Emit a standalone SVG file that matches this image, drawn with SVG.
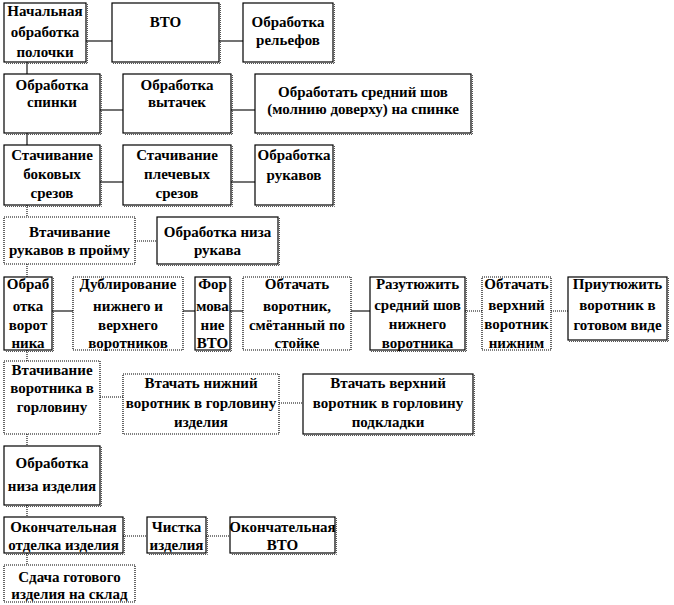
<svg xmlns="http://www.w3.org/2000/svg" width="674" height="605" viewBox="0 0 674 605">
<style>
.s{fill:#fff;stroke:#000;stroke-width:1.2}
.d{fill:#fff;stroke:#000;stroke-width:1.2;stroke-dasharray:1 1}
.sh{fill:none;stroke:#555;stroke-width:1;stroke-dasharray:1 1}
.cs{stroke:#000;stroke-width:1.1;fill:none}
.cd{stroke:#000;stroke-width:1.1;fill:none;stroke-dasharray:1 1}
</style>
<rect width="674" height="605" fill="#fff"/>
<g id="connectors">
<line class="cs" x1="86" y1="41" x2="112" y2="41"/>
<line class="cs" x1="219" y1="41" x2="243" y2="41"/>
<line class="cs" x1="27" y1="62" x2="27" y2="74"/>
<line class="cs" x1="100" y1="110" x2="123" y2="110"/>
<line class="cs" x1="231" y1="110" x2="255" y2="110"/>
<line class="cs" x1="27" y1="133" x2="27" y2="145"/>
<line class="cs" x1="100" y1="182" x2="123" y2="182"/>
<line class="cs" x1="231" y1="182" x2="255" y2="182"/>
<line class="cd" x1="27" y1="205" x2="27" y2="217"/>
<line class="cd" x1="135" y1="241" x2="157" y2="241"/>
<line class="cd" x1="27" y1="264" x2="27" y2="277"/>
<line class="cs" x1="52" y1="311" x2="73" y2="311"/>
<line class="cs" x1="183" y1="311" x2="195" y2="311"/>
<line class="cs" x1="230" y1="311" x2="243" y2="311"/>
<line class="cs" x1="351" y1="311" x2="370" y2="311"/>
<line class="cd" x1="465" y1="311" x2="482" y2="311"/>
<line class="cd" x1="551" y1="311" x2="568" y2="311"/>
<line class="cd" x1="27" y1="350" x2="27" y2="361"/>
<line class="cd" x1="100" y1="397" x2="123" y2="397"/>
<line class="cd" x1="279" y1="403" x2="303" y2="403"/>
<line class="cd" x1="27" y1="434" x2="27" y2="446"/>
<line class="cd" x1="27" y1="505" x2="27" y2="517"/>
<line class="cd" x1="123" y1="536" x2="147" y2="536"/>
<line class="cd" x1="206" y1="536" x2="230" y2="536"/>
<line class="cd" x1="27" y1="553" x2="27" y2="565"/>
</g>
<g font-family="Liberation Serif" font-weight="bold" font-size="15" text-anchor="middle" fill="#000">
<g id="n1"><rect class="s" x="4" y="3" width="82" height="59"/><path class="sh" d="M87.5 4V63.5H5"/><text x="45" y="16">Начальная</text><text x="45" y="37">обработка</text><text x="45" y="57">полочки</text></g>
<g id="n2"><rect class="s" x="112" y="3" width="107" height="59"/><path class="sh" d="M220.5 4V63.5H113"/><text x="165.5" y="27">ВТО</text></g>
<g id="n3"><rect class="s" x="243" y="3" width="90" height="59"/><path class="sh" d="M334.5 4V63.5H244"/><text x="288" y="27">Обработка</text><text x="288" y="45">рельефов</text></g>
<g id="n4"><rect class="s" x="4" y="74" width="96" height="59"/><path class="sh" d="M101.5 75V134.5H5"/><text x="52" y="90">Обработка</text><text x="52" y="107">спинки</text></g>
<g id="n5"><rect class="s" x="123" y="74" width="108" height="59"/><path class="sh" d="M232.5 75V134.5H124"/><text x="177" y="90">Обработка</text><text x="177" y="107">вытачек</text></g>
<g id="n6"><rect class="s" x="255" y="74" width="216" height="59"/><path class="sh" d="M472.5 75V134.5H256"/><text x="363" y="97">Обработать средний шов</text><text x="363" y="114">(молнию доверху) на спинке</text></g>
<g id="n7"><rect class="s" x="4" y="145" width="96" height="60"/><path class="sh" d="M101.5 146V206.5H5"/><text x="52" y="160">Стачивание</text><text x="52" y="179">боковых</text><text x="52" y="198">срезов</text></g>
<g id="n8"><rect class="s" x="123" y="145" width="108" height="60"/><path class="sh" d="M232.5 146V206.5H124"/><text x="177" y="160">Стачивание</text><text x="177" y="179">плечевых</text><text x="177" y="198">срезов</text></g>
<g id="n9"><rect class="s" x="255" y="145" width="78" height="60"/><path class="sh" d="M334.5 146V206.5H256"/><text x="294" y="160">Обработка</text><text x="294" y="180">рукавов</text></g>
<g id="n10"><rect class="d" x="4" y="217" width="131" height="47"/><text x="69.5" y="237">Втачивание</text><text x="69.5" y="255">рукавов в пройму</text></g>
<g id="n11"><rect class="s" x="157" y="217" width="121" height="47"/><path class="sh" d="M279.5 218V265.5H158"/><text x="217.5" y="237">Обработка низа</text><text x="217.5" y="255">рукава</text></g>
<g id="n12"><rect class="s" x="4" y="277" width="48" height="73"/><path class="sh" d="M53.5 278V351.5H5"/><text x="28" y="289">Обраб</text><text x="28" y="311">отка</text><text x="28" y="330">ворот</text><text x="28" y="348">ника</text></g>
<g id="n13"><rect class="d" x="73" y="277" width="110" height="73"/><text x="128" y="289">Дублирование</text><text x="128" y="311">нижнего и</text><text x="128" y="330">верхнего</text><text x="128" y="348">воротников</text></g>
<g id="n14"><rect class="s" x="195" y="277" width="35" height="73"/><path class="sh" d="M231.5 278V351.5H196"/><text x="212.5" y="289">Фор</text><text x="212.5" y="311">мова</text><text x="212.5" y="330">ние</text><text x="212.5" y="348">ВТО</text></g>
<g id="n15"><rect class="d" x="243" y="277" width="108" height="73"/><text x="297" y="289">Обтачать</text><text x="297" y="311">воротник,</text><text x="297" y="330">смётанный по</text><text x="297" y="348">стойке</text></g>
<g id="n16"><rect class="s" x="370" y="277" width="95" height="73"/><path class="sh" d="M466.5 278V351.5H371"/><text x="417.5" y="289">Разутюжить</text><text x="417.5" y="310">средний шов</text><text x="417.5" y="329">нижнего</text><text x="417.5" y="348">воротника</text></g>
<g id="n17"><rect class="d" x="482" y="277" width="69" height="73"/><text x="516.5" y="289">Обтачать</text><text x="516.5" y="310">верхний</text><text x="516.5" y="329">воротник</text><text x="516.5" y="348">нижним</text></g>
<g id="n18"><rect class="s" x="568" y="277" width="99" height="63"/><path class="sh" d="M668.5 278V341.5H569"/><text x="617.5" y="289">Приутюжить</text><text x="617.5" y="310">воротник в</text><text x="617.5" y="330">готовом виде</text></g>
<g id="n19"><rect class="d" x="4" y="361" width="96" height="73"/><text x="52" y="375">Втачивание</text><text x="52" y="393">воротника в</text><text x="52" y="412">горловину</text></g>
<g id="n20"><rect class="d" x="123" y="374" width="156" height="60"/><text x="201" y="388">Втачать нижний</text><text x="201" y="408">воротник в горловину</text><text x="201" y="427">изделия</text></g>
<g id="n21"><rect class="s" x="303" y="374" width="170" height="60"/><path class="sh" d="M474.5 375V435.5H304"/><text x="388" y="388">Втачать верхний</text><text x="388" y="408">воротник в горловину</text><text x="388" y="427">подкладки</text></g>
<g id="n22"><rect class="s" x="4" y="446" width="96" height="59"/><path class="sh" d="M101.5 447V506.5H5"/><text x="52" y="468">Обработка</text><text x="52" y="491">низа изделия</text></g>
<g id="n23"><rect class="s" x="4" y="517" width="119" height="36"/><path class="sh" d="M124.5 518V554.5H5"/><text x="63.5" y="532">Окончательная</text><text x="63.5" y="550">отделка изделия</text></g>
<g id="n24"><rect class="s" x="147" y="517" width="59" height="36"/><path class="sh" d="M207.5 518V554.5H148"/><text x="176.5" y="532">Чистка</text><text x="176.5" y="550">изделия</text></g>
<g id="n25"><rect class="s" x="230" y="517" width="105" height="36"/><path class="sh" d="M336.5 518V554.5H231"/><text x="282.5" y="532">Окончательная</text><text x="282.5" y="550">ВТО</text></g>
<g id="n26"><rect class="d" x="4" y="565" width="131" height="37"/><text x="69.5" y="582">Сдача готового</text><text x="69.5" y="599">изделия на склад</text></g>
</g>
</svg>
